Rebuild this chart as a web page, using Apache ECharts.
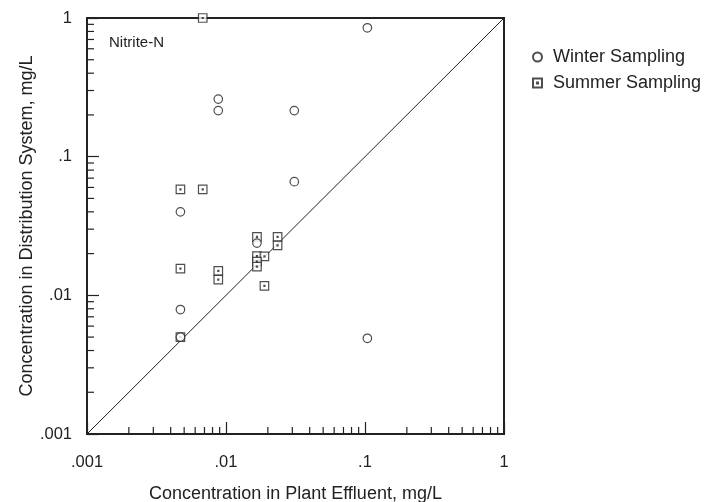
<!DOCTYPE html>
<html>
<head>
<meta charset="utf-8">
<script src="https://cdn.jsdelivr.net/npm/echarts@6/dist/echarts.min.js"></script>
<style>html,body{margin:0;padding:0;background:#fff;}#c{width:708px;height:502px;}</style>
</head>
<body>
<div id="c"></div>
<script>
var winterX = [0.0088, 0.0088, 0.031, 0.031, 0.0047, 0.0167, 0.0047, 0.0047, 0.104, 0.104];
var winterY = [0.26, 0.215, 0.215, 0.066, 0.040, 0.0238, 0.0079, 0.0050, 0.85, 0.0049];
var summerX = [0.0068, 0.0047, 0.0068, 0.0167, 0.0235, 0.0235, 0.0167, 0.0189, 0.0167, 0.0167, 0.0047, 0.0088, 0.0088, 0.0189, 0.0047];
var summerY = [1.0, 0.058, 0.058, 0.0264, 0.0264, 0.0229, 0.0192, 0.0191, 0.0175, 0.0161, 0.0156, 0.0150, 0.0130, 0.0117, 0.0050];
var majorTicks = [0.001, 0.01, 0.1, 1];
var tickLabels = ['.001', '.01', '.1', '1'];
var minorTicks = [];
[0.001, 0.01, 0.1].forEach(function (d) {
  for (var k = 2; k <= 9; k++) minorTicks.push(+(d * k).toPrecision(3));
});
var identityLine = [[0.001, 0.001], [1, 1]];

function zip(a, b) { return a.map(function (v, i) { return [v, b[i]]; }); }
function fmt(v) {
  for (var i = 0; i < majorTicks.length; i++) {
    if (Math.abs(v - majorTicks[i]) / majorTicks[i] < 1e-6) return tickLabels[i];
  }
  return '';
}
var ink = '#222';
var FONT = 'Liberation Sans, Arial, sans-serif';
var squareDot = 'path://M0,0L10,0L10,10L0,10Z M4.4,4.4L5.6,4.4L5.6,5.6L4.4,5.6Z';

var chart = echarts.init(document.getElementById('c'), null, {renderer: 'canvas'});
chart.setOption({
  animation: false,
  backgroundColor: '#fff',
  textStyle: {fontFamily: FONT},
  grid: {left: 87, right: 204, top: 18, bottom: 68, containLabel: false, outerBoundsMode: 'none',
         show: true, borderColor: ink, borderWidth: 2, backgroundColor: 'transparent'},
  title: {text: 'Nitrite-N', left: 104, top: 30, textStyle: {fontSize: 15, fontWeight: 'normal', color: ink, fontFamily: FONT}},
  legend: {
    orient: 'vertical', left: 527, top: 43, itemWidth: 9, itemHeight: 9, itemGap: 8,
    textStyle: {fontSize: 18, color: ink, fontFamily: FONT, padding: [0, 0, 0, 6]},
    data: ['Winter Sampling', 'Summer Sampling']
  },
  xAxis: {
    type: 'log', logBase: 10, min: 0.001, max: 1, interval: 1,
    name: 'Concentration in Plant Effluent, mg/L', nameLocation: 'middle', nameGap: 51, nameMoveOverlap: false,
    nameTextStyle: {fontSize: 18, color: ink},
    axisLine: {lineStyle: {color: ink, width: 2}},
    axisTick: {inside: true, length: 12, lineStyle: {color: ink, width: 1.2}},
    axisLabel: {fontSize: 16.5, color: ink, margin: 20, formatter: fmt, showMinLabel: true, showMaxLabel: true},
    splitLine: {show: false}
  },
  yAxis: {
    type: 'log', logBase: 10, min: 0.001, max: 1, interval: 1,
    name: 'Concentration in Distribution System, mg/L', nameLocation: 'middle', nameGap: 51, nameMoveOverlap: false,
    nameTextStyle: {fontSize: 18, color: ink},
    axisLine: {lineStyle: {color: ink, width: 2}},
    axisTick: {inside: true, length: 12, lineStyle: {color: ink, width: 1.2}},
    axisLabel: {fontSize: 16.5, color: ink, margin: 15, formatter: fmt, showMinLabel: true, showMaxLabel: true},
    splitLine: {show: false}
  },
  series: [
    {
      type: 'custom', silent: true, z: 3,
      data: minorTicks.map(function (v) { return [v, 0.001]; }),
      renderItem: function (params, api) {
        var p = api.coord([api.value(0), api.value(1)]);
        return {type: 'line', shape: {x1: p[0], y1: p[1], x2: p[0], y2: p[1] - 7}, style: {stroke: ink, lineWidth: 1.2}};
      }
    },
    {
      type: 'custom', silent: true, z: 3,
      data: minorTicks.map(function (v) { return [0.001, v]; }),
      renderItem: function (params, api) {
        var p = api.coord([api.value(0), api.value(1)]);
        return {type: 'line', shape: {x1: p[0], y1: p[1], x2: p[0] + 7, y2: p[1]}, style: {stroke: ink, lineWidth: 1.2}};
      }
    },
    {
      type: 'line', data: identityLine, symbol: 'none', silent: true,
      lineStyle: {color: ink, width: 1}, z: 2
    },
    {
      name: 'Winter Sampling', type: 'scatter', data: zip(winterX, winterY), clip: false,
      symbol: 'circle', symbolSize: 8.5, z: 5,
      itemStyle: {color: '#fff', borderColor: ink, borderWidth: 1.2}
    },
    {
      name: 'Summer Sampling', type: 'scatter', data: zip(summerX, summerY), clip: false,
      symbol: squareDot, symbolSize: 8.5, z: 4,
      itemStyle: {color: '#fff', borderColor: ink, borderWidth: 1.2}
    }
  ]
});
</script>
</body>
</html>
